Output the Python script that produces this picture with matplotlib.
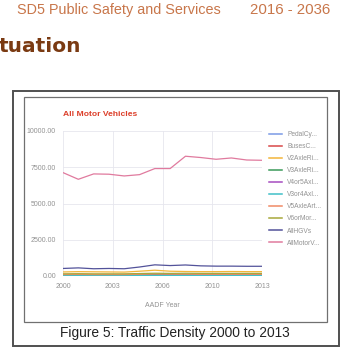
import matplotlib
matplotlib.use("Agg")
import matplotlib.pyplot as plt
from matplotlib.patches import Rectangle

years = [2000, 2001, 2002, 2003, 2004, 2005, 2006, 2007, 2008, 2009, 2010, 2011, 2012, 2013]
series_names = ["PedalCy...", "BusesC...", "V2AxleRi...", "V3AxleRi...", "V4or5Axl...",
                "V3or4Axl...", "V5AxleArt...", "V6orMor...", "AllHGVs", "AllMotorV..."]
pedal = [20, 20, 20, 20, 20, 20, 25, 25, 25, 25, 25, 25, 25, 25]
buses = [60, 60, 55, 55, 55, 60, 70, 70, 65, 60, 60, 60, 60, 60]
v2axle = [280, 300, 290, 280, 270, 330, 400, 330, 310, 300, 300, 310, 300, 300]
v3axle = [80, 80, 75, 75, 75, 80, 90, 85, 85, 80, 80, 80, 80, 80]
v4or5 = [40, 40, 40, 40, 40, 45, 50, 50, 50, 45, 45, 45, 45, 45]
v3or4 = [30, 30, 30, 30, 30, 35, 40, 40, 40, 35, 35, 35, 35, 35]
v5axle = [100, 110, 100, 100, 100, 120, 140, 130, 130, 120, 120, 120, 120, 120]
v6more = [150, 160, 150, 150, 150, 170, 190, 180, 190, 180, 180, 180, 180, 180]
allhgv = [520, 560, 500, 520, 500, 620, 770, 720, 760, 700, 680, 680, 670, 670]
allmotor = [7130, 6670, 7040, 7020, 6900, 6990, 7410, 7410, 8260, 8170, 8050, 8140, 8000, 7980]
series_values = [pedal, buses, v2axle, v3axle, v4or5, v3or4, v5axle, v6more, allhgv, allmotor]
series_colors = ["#7a9ae6", "#d84848", "#f2b53a", "#3a9a5a", "#a64cc0", "#40c0c8",
                 "#f08a66", "#a8a83a", "#52529a", "#e07a9e"]

x_ticks = [2000, 2003.25, 2006.5, 2009.75, 2013]
x_tick_labels = ["2000", "2003", "2006", "2010", "2013"]
y_ticks = [0, 2500, 5000, 7500, 10000]

W, H = 356, 351
fig = plt.figure(figsize=(W / 100, H / 100), dpi=100)
fig.patch.set_facecolor("white")

def fx(px):
    return px / W

def fy(py):
    return 1 - py / H

# header texts
fig.text(fx(17), fy(10), "SD5 Public Safety and Services", fontsize=10.4,
         color="#c8764a", family="Liberation Sans", va="center", ha="left")
fig.text(fx(250), fy(10), "2016 - 2036", fontsize=10.8,
         color="#c8764a", family="Liberation Sans", va="center", ha="left")
fig.text(fx(-1), fy(47), "tuation", fontsize=14.5, fontweight="bold",
         color="#7a3a12", family="DejaVu Sans", va="center", ha="left")

# frames
fig.add_artist(Rectangle((fx(13), fy(346)), fx(339) - fx(13), fy(91) - fy(346),
                         transform=fig.transFigure, fill=False, edgecolor="#505050", linewidth=1.4))
fig.add_artist(Rectangle((fx(24), fy(322)), fx(327) - fx(24), fy(97) - fy(322),
                         transform=fig.transFigure, fill=False, edgecolor="#707070", linewidth=0.9))
fig.text(fx(175), fy(333), "Figure 5: Traffic Density 2000 to 2013", fontsize=9.9,
         color="#222222", family="Liberation Sans", va="center", ha="center")

# chart
ax = fig.add_axes([fx(63), fy(276), fx(262) - fx(63), fy(131) - fy(276)])
for name, vals, col in zip(series_names, series_values, series_colors):
    ax.plot(years, vals, color=col, linewidth=0.9, label=name)
ax.set_xlim(2000, 2013)
ax.set_ylim(0, 10000)
ax.set_xticks(x_ticks)
ax.set_xticklabels(x_tick_labels)
ax.set_yticks(y_ticks)
ax.set_yticklabels([f"{v:.2f}" for v in y_ticks])
ax.grid(True, color="#e6e6ee", linewidth=0.6)
ax.set_axisbelow(True)
for s in ax.spines.values():
    s.set_visible(False)
ax.tick_params(length=0, labelsize=5, labelcolor="#929292", pad=5)
for lab in ax.get_xticklabels() + ax.get_yticklabels():
    lab.set_family("Liberation Sans")
ax.set_xlabel("AADF Year", fontsize=5, color="#929292", family="Liberation Sans", labelpad=9)
ax.set_title("All Motor Vehicles", fontsize=6.1, fontweight="bold", color="#dc3f2a",
             family="Liberation Sans", loc="left", pad=11)

leg = ax.legend(loc="upper left", bbox_to_anchor=(fx(269), fy(131)),
                bbox_transform=fig.transFigure, frameon=False, fontsize=4.8,
                handlelength=2.0, handletextpad=0.7, labelspacing=0.76,
                borderaxespad=0, borderpad=0)
for t in leg.get_texts():
    t.set_color("#929292")
    t.set_family("Liberation Sans")
for h in leg.get_lines():
    h.set_linewidth(1.1)

fig.savefig("out.png", dpi=100, facecolor="white")
